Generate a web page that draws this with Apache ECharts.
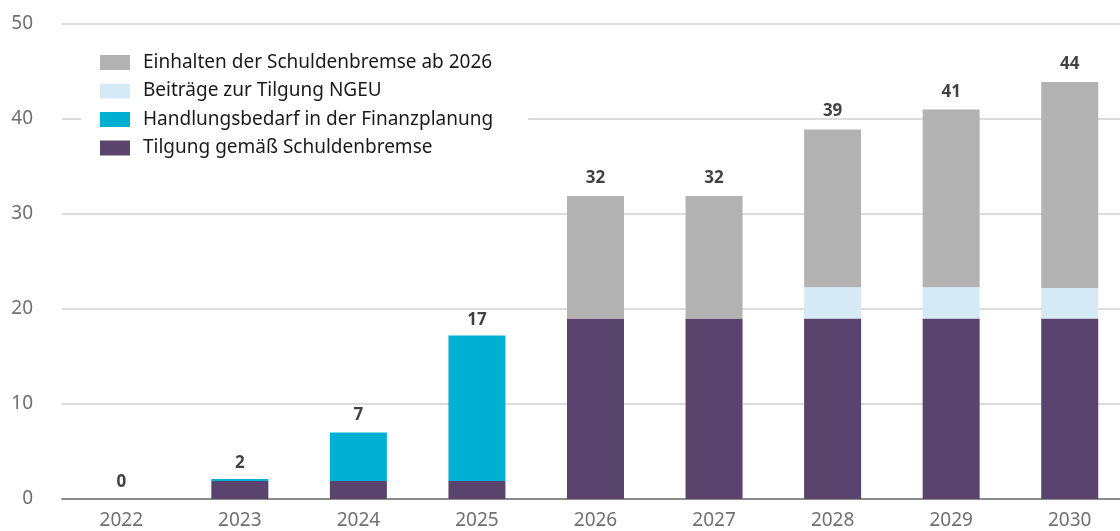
<!DOCTYPE html>
<html>
<head>
<meta charset="utf-8">
<script src="https://cdn.jsdelivr.net/npm/echarts@6/dist/echarts.min.js"></script>
<style>
  html, body { margin: 0; padding: 0; background: #fff; }
  #chart { width: 1120px; height: 531px; }
</style>
</head>
<body>
<div id="chart"></div>
<script>
const years = ['2022', '2023', '2024', '2025', '2026', '2027', '2028', '2029', '2030']
const tilgung = [0, 1.9, 1.9, 1.9, 19, 19, 19, 19, 19]
const handlungsbedarf = [0, 0.2, 5.1, 15.3, 0, 0, 0, 0, 0]
const ngeu = [0, 0, 0, 0, 0, 0, 3.3, 3.3, 3.2]
const einhalten = [0, 0, 0, 0, 12.9, 12.9, 16.6, 18.7, 21.7]
const totals = [0, 2, 7, 17, 32, 32, 39, 41, 44]

const names = {
  einhalten: 'Einhalten der Schuldenbremse ab 2026',
  ngeu: 'Beiträge zur Tilgung NGEU',
  handlung: 'Handlungsbedarf in der Finanzplanung',
  tilgung: 'Tilgung gemäß Schuldenbremse'
}

const font = 'Noto Sans'
const chart = echarts.init(document.getElementById('chart'))

const barSeries = (name, data, color) => ({
  name,
  type: 'bar',
  stack: 'total',
  barWidth: 57,
  itemStyle: { color },
  emphasis: { disabled: true },
  data
})

chart.setOption({
  animation: false,
  textStyle: { fontFamily: font },
  grid: { left: 62, width: 1067, top: 24, bottom: 32, outerBoundsMode: 'none' },
  legend: {
    orient: 'vertical',
    left: 81,
    top: 47,
    itemWidth: 30,
    itemHeight: 15,
    itemGap: 9.5,
    padding: [6, 35, 6, 19],
    backgroundColor: '#fff',
    icon: 'rect',
    selectedMode: false,
    textStyle: {
      fontFamily: font,
      fontSize: 19,
      lineHeight: 19,
      color: '#1a1a1a',
      padding: [0, 0, 0, 8]
    },
    data: [names.einhalten, names.ngeu, names.handlung, names.tilgung]
  },
  xAxis: {
    type: 'category',
    data: years,
    axisTick: { show: false },
    axisLine: { lineStyle: { color: '#8c8c8c', width: 2 } },
    axisLabel: { color: '#707070', fontSize: 19, margin: 12, fontFamily: font }
  },
  yAxis: {
    type: 'value',
    min: 0,
    max: 50,
    interval: 10,
    axisLine: { show: false },
    axisTick: { show: false },
    axisLabel: { color: '#707070', fontSize: 19, margin: 29, fontFamily: font },
    splitLine: { lineStyle: { color: '#d0d0d0', width: 1.5 } }
  },
  series: [
    barSeries(names.tilgung, tilgung, '#58446c'),
    barSeries(names.handlung, handlungsbedarf, '#00b0d2'),
    barSeries(names.ngeu, ngeu, '#d5eaf5'),
    barSeries(names.einhalten, einhalten, '#b2b2b2'),
    {
      name: 'Summe',
      type: 'scatter',
      symbolSize: 1,
      itemStyle: { color: 'rgba(0,0,0,0)' },
      emphasis: { disabled: true },
      label: {
        show: true,
        position: 'top',
        distance: 8,
        color: '#111',
        fontSize: 17,
        fontWeight: 'bold',
        fontFamily: font
      },
      data: totals,
      z: 10
    }
  ]
})
</script>
</body>
</html>
